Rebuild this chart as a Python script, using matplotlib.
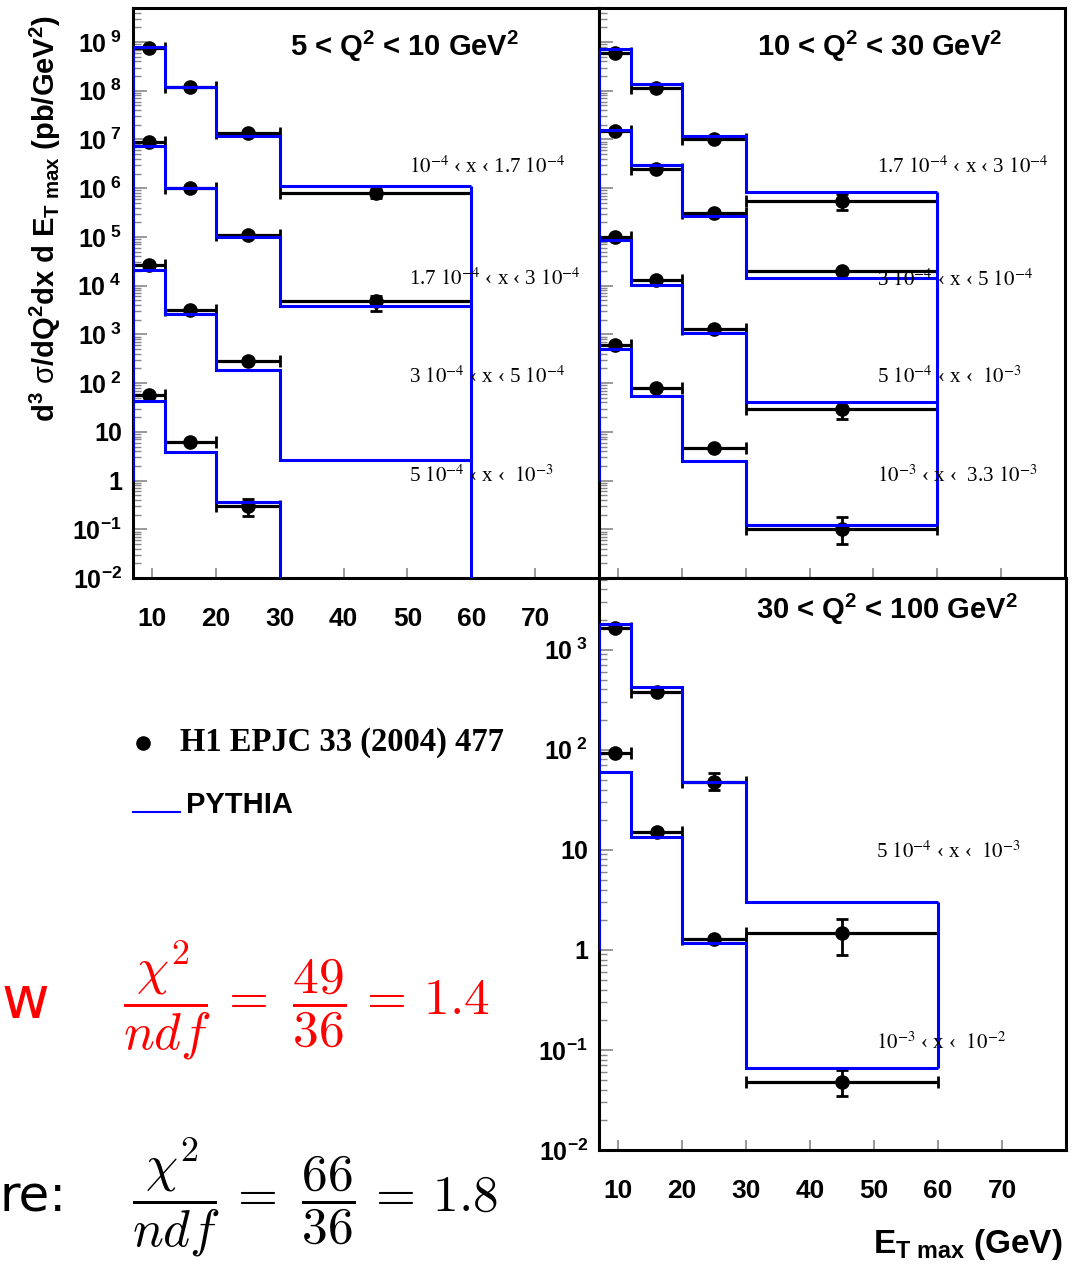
import numpy as np
import matplotlib
matplotlib.use('Agg')
import matplotlib.pyplot as plt
from matplotlib.lines import Line2D
from matplotlib.ticker import LogLocator, NullFormatter

plt.rcParams['font.family'] = ['Liberation Sans', 'DejaVu Sans']
plt.rcParams['mathtext.fontset'] = 'custom'
plt.rcParams['mathtext.rm'] = 'Liberation Sans'
plt.rcParams['mathtext.bf'] = 'Liberation Sans:bold'
plt.rcParams['mathtext.it'] = 'Liberation Sans:italic'

W, H = 1075, 1264
BLUE = '#0000ff'

# E_T max bins (GeV)
et_edges = [7, 12, 20, 30, 60]
x_ticks = [10, 20, 30, 40, 50, 60, 70]
x_ticklabels = ['10', '20', '30', '40', '50', '60', '70']

top_yticks = [1e-2, 1e-1, 1, 10, 1e2, 1e3, 1e4, 1e5, 1e6, 1e7, 1e8, 1e9]
top_yticklabels = [r'$\mathbf{10}^{\mathbf{-2}}$', r'$\mathbf{10}^{\mathbf{-1}}$', '1', '10',
                   r'$\mathbf{10}^{\ \mathbf{2}}$', r'$\mathbf{10}^{\ \mathbf{3}}$',
                   r'$\mathbf{10}^{\ \mathbf{4}}$', r'$\mathbf{10}^{\ \mathbf{5}}$',
                   r'$\mathbf{10}^{\ \mathbf{6}}$', r'$\mathbf{10}^{\ \mathbf{7}}$',
                   r'$\mathbf{10}^{\ \mathbf{8}}$', r'$\mathbf{10}^{\ \mathbf{9}}$']
bot_yticks = [1e-2, 1e-1, 1, 10, 1e2, 1e3]
bot_yticklabels = [r'$\mathbf{10}^{\mathbf{-2}}$', r'$\mathbf{10}^{\mathbf{-1}}$', '1', '10',
                   r'$\mathbf{10}^{\ \mathbf{2}}$', r'$\mathbf{10}^{\ \mathbf{3}}$']

# 5 < Q2 < 10 GeV2
q1_title = r'5 < Q$^{\mathbf{2}}$ < 10 GeV$^{\mathbf{2}}$'
q1_xbins = [r'$10^{-4}$ ‹ x ‹ 1.7 $10^{-4}$', r'1.7 $10^{-4}$ ‹ x ‹ 3 $10^{-4}$',
            r'3 $10^{-4}$ ‹ x ‹ 5 $10^{-4}$', r'5 $10^{-4}$ ‹ x ‹  $10^{-3}$']
q1_h1 = [[7.6e8, 1.2e8, 1.35e7, 7.8e5],
         [8.7e6, 1.02e6, 1.1e5, 4.8e3],
         [2.7e4, 3.2e3, 2.9e2, np.nan],
         [56, 6.2, 0.30, np.nan]]
q1_lo = [[0, 0, 0, 1.6e5], [0, 0, 0, 1.8e3], [0, 0, 0, 0], [0, 0, 0.11, 0]]
q1_hi = [[0, 0, 0, 2.0e5], [0, 0, 0, 1.4e3], [0, 0, 0, 0], [0, 0, 0.11, 0]]
q1_py = [[8.0e8, 1.2e8, 1.2e7, 1.1e6],
         [7.5e6, 1.0e6, 9.8e4, 3.9e3],
         [2.05e4, 2.6e3, 1.9e2, 2.7],
         [43, 3.8, 0.37, 0]]

# 10 < Q2 < 30 GeV2
q2_title = r'10 < Q$^{\mathbf{2}}$ < 30 GeV$^{\mathbf{2}}$'
q2_xbins = [r'1.7 $10^{-4}$ ‹ x ‹ 3 $10^{-4}$', r'3 $10^{-4}$ ‹ x ‹ 5 $10^{-4}$',
            r'5 $10^{-4}$ ‹ x ‹  $10^{-3}$', r'$10^{-3}$ ‹ x ‹  3.3 $10^{-3}$']
q2_h1 = [[5.9e8, 1.13e8, 1.02e7, 5.5e5],
         [1.5e7, 2.5e6, 3.1e5, 2.0e4],
         [9.8e4, 1.32e4, 1.29e3, 29],
         [6.0e2, 80, 4.7, 0.10]]
q2_lo = [[0, 0, 0, 2.0e5], [0, 0, 0, 0], [0, 0, 0, 11], [0, 0, 0, 0.049]]
q2_hi = [[0, 0, 0, 2.1e5], [0, 0, 0, 0], [0, 0, 0, 11], [0, 0, 0, 0.08]]
q2_py = [[7.1e8, 1.4e8, 1.2e7, 8.3e5],
         [1.6e7, 3.0e6, 2.7e5, 1.44e4],
         [8.5e4, 1.05e4, 1.05e3, 40],
         [4.9e2, 54, 2.5, 0.12]]

# 30 < Q2 < 100 GeV2
q3_title = r'30 < Q$^{\mathbf{2}}$ < 100 GeV$^{\mathbf{2}}$'
q3_xbins = [r'5 $10^{-4}$ ‹ x ‹  $10^{-3}$', r'$10^{-3}$ ‹ x ‹  $10^{-2}$']
q3_h1 = [[1.66e3, 3.8e2, 48, 1.48],
         [93, 15, 1.29, 0.048]]
q3_lo = [[0, 0, 8, 0.59], [0, 0, 0, 0.013]]
q3_hi = [[0, 0, 10, 0.56], [0, 0, 0, 0.015]]
q3_py = [[1.8e3, 4.2e2, 48, 3.0],
         [60, 13.5, 1.17, 0.066]]


def fx(px):
    return px / W


def fy(py):
    return 1 - py / H


def make_axes(fig, left, top, right, bottom):
    return fig.add_axes([fx(left), fy(bottom), (right - left) / W, (bottom - top) / H])


def draw_panel(ax, h1, lo, hi, py, ylim):
    edges = np.array(et_edges, float)
    cen = 0.5 * (edges[1:] + edges[:-1])
    half = 0.5 * (edges[1:] - edges[:-1])
    for vals, l, h in zip(h1, lo, hi):
        v = np.array(vals, float)
        ok = ~np.isnan(v)
        ax.errorbar(cen[ok], v[ok], xerr=half[ok], fmt='o', color='k', ms=9.5,
                    elinewidth=2.3, capsize=4.5, capthick=2.0, zorder=2)
        l = np.array(l, float)
        h = np.array(h, float)
        e = ok & ((l > 0) | (h > 0))
        if e.any():
            ax.errorbar(cen[e], v[e], yerr=[l[e], h[e]], fmt='none', ecolor='k',
                        elinewidth=2.0, capsize=4.5, capthick=2.0, zorder=2)
    for vals in py:
        v = np.clip(np.array(vals, float), 1e-9, None)
        ax.stairs(v, edges, baseline=None, color=BLUE, lw=2.2, zorder=3)
    first = [s[0] for s in py]
    last = [max(s[-1], 1e-9) for s in py]
    ax.vlines(edges[0], 1, max(first), color=BLUE, lw=2.2, zorder=3)
    ax.vlines(edges[-1], min(last), max(last), color=BLUE, lw=2.2, zorder=3)

    ax.set_yscale('log')
    ax.set_xlim(7, 80)
    ax.set_ylim(*ylim)
    ax.set_xticks(x_ticks, x_ticklabels, fontsize=19, fontweight='bold')
    ax.yaxis.set_minor_locator(LogLocator(base=10, subs=np.arange(2, 10), numticks=100))
    ax.yaxis.set_minor_formatter(NullFormatter())
    ax.xaxis.set_minor_locator(plt.NullLocator())
    ax.tick_params(axis='both', which='both', direction='in', color='#888888')
    ax.tick_params(axis='y', which='major', length=10, width=1.2, pad=8)
    ax.tick_params(axis='y', which='minor', length=5.5, width=1.0)
    ax.tick_params(axis='x', which='major', length=7, width=1.2, pad=21)
    for s in ax.spines.values():
        s.set_linewidth(2.2)
        s.set_color('k')


fig = plt.figure(figsize=(W / 100, H / 100), dpi=100)

ax1 = make_axes(fig, 133, 8, 599, 578)
draw_panel(ax1, q1_h1, q1_lo, q1_hi, q1_py, (1e-2, 5e9))
ax1.set_yticks(top_yticks, top_yticklabels, fontsize=18, fontweight='bold')

ax2 = make_axes(fig, 599, 8, 1065, 578)
draw_panel(ax2, q2_h1, q2_lo, q2_hi, q2_py, (1e-2, 5e9))
ax2.set_yticks(top_yticks, top_yticklabels)
ax2.tick_params(labelleft=False, labelbottom=False)

ax3 = make_axes(fig, 599, 578, 1066, 1150)
draw_panel(ax3, q3_h1, q3_lo, q3_hi, q3_py, (1e-2, 5.2e3))
ax3.set_yticks(bot_yticks, bot_yticklabels, fontsize=18, fontweight='bold')

# panel titles
for title, px, py_ in [(q1_title, 290, 56), (q2_title, 757, 56), (q3_title, 756, 619)]:
    fig.text(fx(px), fy(py_), title, fontsize=21, fontweight='bold', va='baseline')

# x-range labels
serif = dict(family=['Liberation Serif', 'DejaVu Serif'], math_fontfamily='stix',
             fontsize=15, va='baseline')
for lab, py_ in zip(q1_xbins, [173, 285, 383, 482]):
    fig.text(fx(409), fy(py_), lab, **serif)
for lab, py_ in zip(q2_xbins, [173, 286, 383, 482]):
    fig.text(fx(877), fy(py_), lab, **serif)
for lab, py_ in zip(q3_xbins, [858, 1049]):
    fig.text(fx(876), fy(py_), lab, **serif)

# axis labels
fig.text(fx(45), fy(218),
         r'$\mathbf{d}^{\mathbf{3}}$ $\mathrm{\sigma}$/dQ$^{\mathbf{2}}$dx d E$_{\mathbf{T\ max}}$ (pb/GeV$^{\mathbf{2}}$)',
         rotation=90, ha='center', va='center', fontsize=21, fontweight='bold')
fig.text(fx(1063), fy(1244), r'E$_{\mathbf{T\ max}}$ (GeV)', ha='right', va='center',
         fontsize=24, fontweight='bold')

# legend
fig.add_artist(Line2D([fx(143)], [fy(743)], marker='o', ms=9.5, color='k',
                      transform=fig.transFigure))
fig.text(fx(180), fy(751), 'H1 EPJC 33 (2004) 477', family='Liberation Serif',
         fontweight='bold', fontsize=23.5, va='baseline')
fig.add_artist(Line2D([fx(133), fx(180)], [fy(812), fy(812)], color=BLUE, lw=1.5,
                      transform=fig.transFigure))
fig.text(fx(186), fy(813), 'PYTHIA', fontweight='bold', fontsize=21, va='baseline')

# chi2 / ndf
fig.text(fx(2), fy(1002), 'w', color='red', fontsize=42, family='DejaVu Sans', va='center')
fig.text(fx(123), fy(1000), r'$\dfrac{\chi^2}{ndf}\,=\ \dfrac{49}{36}\,=\,1.4$', color='red',
         fontsize=37, math_fontfamily='cm', va='center')
fig.text(fx(0), fy(1197), 're:', color='k', fontsize=36, family='DejaVu Sans', va='center')
fig.text(fx(132), fy(1197), r'$\dfrac{\chi^2}{ndf}\,=\ \dfrac{66}{36}\,=\,1.8$', color='k',
         fontsize=37, math_fontfamily='cm', va='center')

fig.savefig('out.png', dpi=100)
